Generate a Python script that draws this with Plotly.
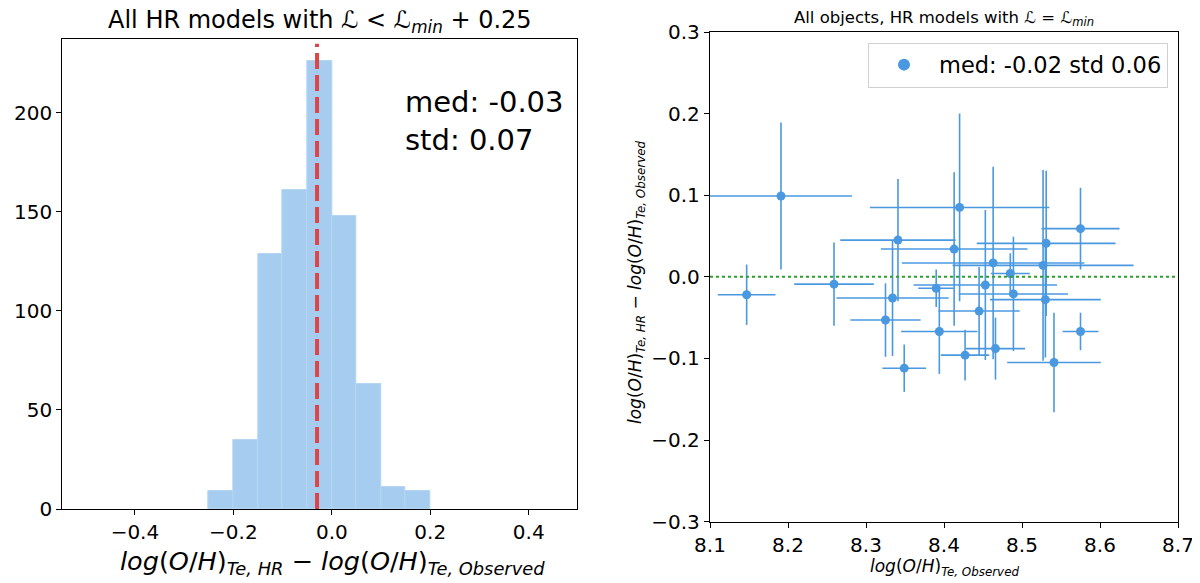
import plotly.graph_objects as go

# histogram of log(O/H) differences (bin width 0.05)
BIN_LEFT = [-0.25, -0.20, -0.15, -0.10, -0.05, 0.00, 0.05, 0.10, 0.15]
BIN_WIDTH = 0.05
COUNTS = [9, 35, 129, 161, 226, 148, 63, 11, 9]
MEDIAN_ALL = -0.03
STD_ALL = 0.07

# per-object comparison (L = L_min)
X_OBS = [8.147, 8.191, 8.259, 8.341, 8.334, 8.325, 8.349, 8.390, 8.394, 8.413, 8.420, 8.427,
         8.445, 8.453, 8.463, 8.466, 8.485, 8.489, 8.527, 8.530, 8.531, 8.541, 8.575, 8.575]
Y_DIFF = [-0.022, 0.099, -0.009, 0.045, -0.026, -0.053, -0.112, -0.014, -0.067, 0.034, 0.085, -0.096,
          -0.042, -0.010, 0.017, -0.088, 0.004, -0.021, 0.014, -0.028, 0.041, -0.105, 0.059, -0.067]
X_ERR = [0.037, 0.091, 0.051, 0.074, 0.072, 0.045, 0.028, 0.023, 0.049, 0.094, 0.115, 0.031,
         0.052, 0.092, 0.117, 0.038, 0.025, 0.070, 0.116, 0.071, 0.089, 0.060, 0.050, 0.023]
Y_ERR = [0.037, 0.090, 0.051, 0.075, 0.071, 0.045, 0.029, 0.023, 0.052, 0.094, 0.115, 0.031,
         0.054, 0.092, 0.118, 0.038, 0.025, 0.070, 0.117, 0.071, 0.089, 0.061, 0.050, 0.023]
MED_OBJ = -0.02
STD_OBJ = 0.06

# page body has an 8px margin, so the figure starts at (8, 8) in the window
PAGE_W, PAGE_H, OFF = 1200, 583, 8
W, H = PAGE_W - OFF, PAGE_H - OFF
FONT = "DejaVu Sans"
BLUE = "#4a98e0"


def px(x):
    # window pixel -> paper fraction
    return (x - OFF) / W


def py(y):
    return (H - (y - OFF)) / H


fig = go.Figure()

fig.add_trace(go.Bar(
    x=BIN_LEFT, y=COUNTS, width=BIN_WIDTH, offset=0,
    marker=dict(color="#a6cdf0", line=dict(color="#b4d6f3", width=1)),
    xaxis="x", yaxis="y", showlegend=False
))

fig.add_shape(type="line", xref="x", yref="y domain", x0=MEDIAN_ALL, x1=MEDIAN_ALL, y0=0, y1=0.99,
              line=dict(color="#dc4646", width=4, dash="16px,6px"))

fig.add_trace(go.Scatter(
    x=X_OBS, y=Y_DIFF, mode="markers",
    name=f"med: {MED_OBJ:.2f} std {STD_OBJ:.2f}",
    marker=dict(color=BLUE, size=9),
    error_x=dict(type="data", array=X_ERR, color=BLUE, thickness=1.6, width=0),
    error_y=dict(type="data", array=Y_ERR, color=BLUE, thickness=1.6, width=0),
    xaxis="x2", yaxis="y2"
))

fig.add_shape(type="line", xref="x2 domain", yref="y2", x0=0, x1=1, y0=0, y1=0,
              line=dict(color="#2ca02c", width=2, dash="dot"))

axis_common = dict(showline=True, linecolor="black", linewidth=1.3, mirror=True,
                   ticks="outside", ticklen=5, tickwidth=1.2, tickcolor="black",
                   showgrid=False, zeroline=False, automargin=False,
                   ticklabeloverflow="allow", tickfont=dict(size=20, color="black"))

fig.update_layout(
    width=W, height=H,
    margin=dict(l=0, r=0, t=0, b=0, autoexpand=False),
    paper_bgcolor="white", plot_bgcolor="white",
    font=dict(family=FONT, color="black"),
    bargap=0,
    xaxis=dict(domain=[px(62.3), px(576.7)], range=[-0.5475, 0.4975],
               tickvals=[-0.4, -0.2, 0.0, 0.2, 0.4], tickformat=".1f", anchor="y", **axis_common),
    yaxis=dict(domain=[py(509), py(39)], range=[0, 237.3],
               tickvals=[0, 50, 100, 150, 200], anchor="x", **axis_common),
    xaxis2=dict(domain=[px(710), px(1178)], range=[8.1, 8.7], dtick=0.1, tick0=8.1,
                tickformat=".1f", anchor="y2", **axis_common),
    yaxis2=dict(domain=[py(521.6), py(32)], range=[-0.3, 0.3], dtick=0.1, tick0=0,
                tickformat=".1f", anchor="x2", **axis_common),
    legend=dict(x=px(1168), y=py(42.5), xanchor="right", yanchor="top",
                bgcolor="white", bordercolor="#d0d0d0", borderwidth=1,
                font=dict(size=22.5, color="black"), itemwidth=60, itemsizing="constant"),
    showlegend=True,
)

ann = [
    dict(text="All HR models with <i>ℒ</i> < <i>ℒ</i><sub><i>min</i></sub> + 0.25",
         x=px(320), y=py(22), font=dict(size=24)),
    dict(text=f"med: {MEDIAN_ALL:.2f}<br>std: {STD_ALL:.2f}",
         x=px(403), y=py(121), xanchor="left", align="left",
         font=dict(size=29)),
    dict(text="<i>log</i>(<i>O</i>/<i>H</i>)<sub><i>Te, HR</i></sub> − <i>log</i>(<i>O</i>/<i>H</i>)<sub><i>Te, Observed</i></sub>",
         x=px(332), y=py(562), font=dict(size=25.5)),
    dict(text="All objects, HR models with <i>ℒ</i> = <i>ℒ</i><sub><i>min</i></sub>",
         x=px(944), y=py(19), font=dict(size=16.5)),
    dict(text="<i>log</i>(<i>O</i>/<i>H</i>)<sub><i>Te, Observed</i></sub>",
         x=px(944), y=py(567), font=dict(size=17)),
    dict(text="<i>log</i>(<i>O</i>/<i>H</i>)<sub><i>Te, HR</i></sub> − <i>log</i>(<i>O</i>/<i>H</i>)<sub><i>Te, Observed</i></sub>",
         x=px(636), y=py(282), textangle=-90, font=dict(size=17)),
]
for a in ann:
    a.setdefault("xanchor", "center")
    a.setdefault("yanchor", "middle")
    fig.add_annotation(xref="paper", yref="paper", showarrow=False, **a)

fig.write_html("out.html")
